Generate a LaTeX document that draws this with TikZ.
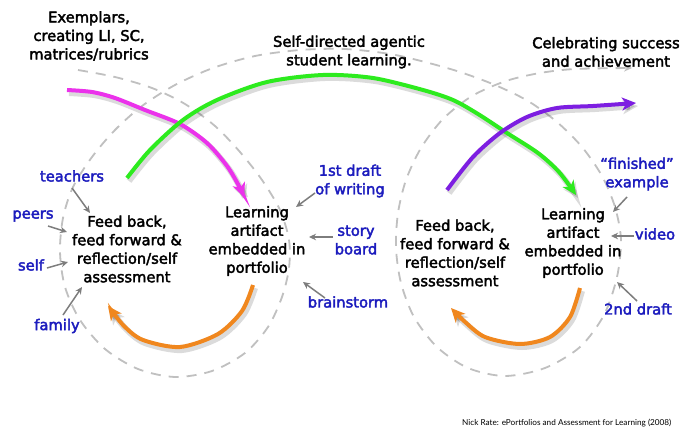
\documentclass[tikz,border=0pt]{standalone}
\usepackage{fontspec}
\font\mainf="DejaVu Sans:embolden=2.6" at 14.7pt
\newfontfamily\footfont{Lato}
\usetikzlibrary{arrows.meta}
\definecolor{lblue}{RGB}{28,28,190}
\definecolor{dgray}{RGB}{125,125,125}
\definecolor{dashg}{RGB}{192,192,192}
\definecolor{magc}{RGB}{235,50,235}
\definecolor{grnc}{RGB}{45,235,30}
\definecolor{purc}{RGB}{125,30,225}
\definecolor{orac}{RGB}{240,135,30}
\tikzset{
  txt/.style={font=\fontsize{14.7}{18.5}\selectfont\mainf, align=center, inner sep=0pt, text=black},
  lab/.style={txt, text=lblue},
  gar/.style={draw=dgray, line width=1.5pt, -{Stealth[length=7pt,width=6.5pt]}},
  dsh/.style={draw=dashg, line width=1.8pt, dash pattern=on 10pt off 8pt},
  carr/.style={line width=4pt, -{Stealth[length=14pt,width=13pt,inset=4pt]}},
  shad/.style={draw=black, opacity=0.14, line width=6pt, -{Stealth[length=15pt,width=14pt,inset=4pt]}}
}
\newcommand\magarr[1]{\draw[#1] plot[smooth] coordinates {(67,90) (92,92) (115,98) (145,110) (180,124) (207,143) (227,166) (239,186) (244,197)};}
\newcommand\grnarr[1]{\draw[#1] plot[smooth] coordinates {(127,178) (150,150) (183,120) (217,100) (267,82) (323,75) (373,78) (423,90) (453,100) (478,114) (507,133) (538,153) (559,172) (576,195)};}
\newcommand\purarr[1]{\draw[#1] plot[smooth] coordinates {(447,190) (473,157) (500,133) (527,117) (557,108) (593,106) (636,103)};}
\newcommand\oralarr[1]{\draw[#1] plot[smooth] coordinates {(253,285) (242,311) (218,334) (180,347) (143,340) (124,326) (108,306)};}
\newcommand\orararr[1]{\draw[#1] plot[smooth] coordinates {(580,288) (570,317) (550,337) (520,344) (485,337) (464,321) (451,308)};}
\begin{document}
\begin{tikzpicture}[x=1pt,y=-1pt]
\useasboundingbox (0,0) rectangle (680,428);
\fill[white] (0,0) rectangle (680,428);
% dashed spiral path
\draw[dsh, -{Stealth[length=8pt,width=7pt]}] plot[smooth] coordinates {(78,70) (115,77) (152,88) (185,104) (215,126) (240,152) (262,180) (280,210) (289,240) (289,268) (282,297) (268,327) (245,353) (212,371) (175,377) (138,369) (105,349) (80,320) (65,287) (60,252) (63,218) (73,187) (92,157) (115,130) (142,106) (175,85) (213,68) (255,56) (300,50) (345,49) (390,54) (425,62) (460,72) (495,85) (528,101) (557,122) (582,147) (602,176) (615,207) (621,240) (617,277) (604,315) (580,347) (545,368) (505,376) (468,368) (437,347) (414,317) (401,283) (396,248) (398,213) (406,180) (421,148) (443,119) (472,96) (506,81) (540,73) (575,69) (632,68)};
% shadows
\begin{scope}[shift={(2,3)}]
\magarr{shad}
\grnarr{shad}
\purarr{shad}
\oralarr{shad}
\orararr{shad}
\end{scope}
% coloured arrows
\magarr{carr, draw=magc}
\grnarr{carr, draw=grnc}
\purarr{carr, draw=purc}
\oralarr{carr, draw=orac}
\orararr{carr, draw=orac}
% headings
\node[txt] (exem) at (89,36) {Exemplars,\\creating LI, SC,\\matrices/rubrics};
\node[txt] (selfdir) at (349,52) {Self-directed agentic\\student learning.};
\node[txt] (celeb) at (606,52) {Celebrating success\\and achievement};
% loop texts
\node[txt] (fbL) at (127,249) {Feed back,\\feed forward \&\\reflection/self\\assessment};
\node[txt] (laL) at (257,241) {Learning\\artifact\\embedded in\\portfolio};
\node[txt] (fbR) at (455,253) {Feed back,\\feed forward \&\\reflection/self\\assessment};
\node[txt] (laR) at (573,243) {Learning\\artifact\\embedded in\\portfolio};
% blue labels
\node[lab] (teachers) at (72,176) {teachers};
\node[lab] (peers) at (33,216) {peers};
\node[lab] (self) at (31,265) {self};
\node[lab] (family) at (57,326) {family};
\node[lab] (first) at (350,181) {1st draft\\of writing};
\node[lab] (story) at (356,240) {story\\board};
\node[lab] (brain) at (348,302) {brainstorm};
\node[lab] (fin) at (637,174) {“finished”\\example};
\node[lab] (video) at (655,234) {video};
\node[lab] (second) at (638,309) {2nd draft};
% arrow end points
\coordinate (tS) at (72,188); \coordinate (tE) at (90,213);
\coordinate (pS) at (48,226); \coordinate (pE) at (67,232);
\coordinate (sS) at (47,268); \coordinate (sE) at (68,262);
\coordinate (fS) at (63,315); \coordinate (fE) at (82,287);
\coordinate (aS) at (315,193); \coordinate (aE) at (296,207);
\coordinate (bS) at (333,237); \coordinate (bE) at (309,237);
\coordinate (cS) at (325,298); \coordinate (cE) at (303,282);
\coordinate (dS) at (627,197); \coordinate (dE) at (613,212);
\coordinate (eS) at (634,236); \coordinate (eE) at (611,236);
\coordinate (gS) at (637,301); \coordinate (gE) at (617,282);
\draw[gar] (tS) -- (tE);
\draw[gar] (pS) -- (pE);
\draw[gar] (sS) -- (sE);
\draw[gar] (fS) -- (fE);
\draw[gar] (aS) -- (aE);
\draw[gar] (bS) -- (bE);
\draw[gar] (cS) -- (cE);
\draw[gar] (dS) -- (dE);
\draw[gar] (eS) -- (eE);
\draw[gar] (gS) -- (gE);
% footer
\node[font=\footfont\fontsize{8.2}{10}\selectfont, anchor=west, inner sep=0pt] (foot) at (462,423) {Nick Rate: ePortfolios and Assessment for Learning (2008)};
\end{tikzpicture}
\end{document}
